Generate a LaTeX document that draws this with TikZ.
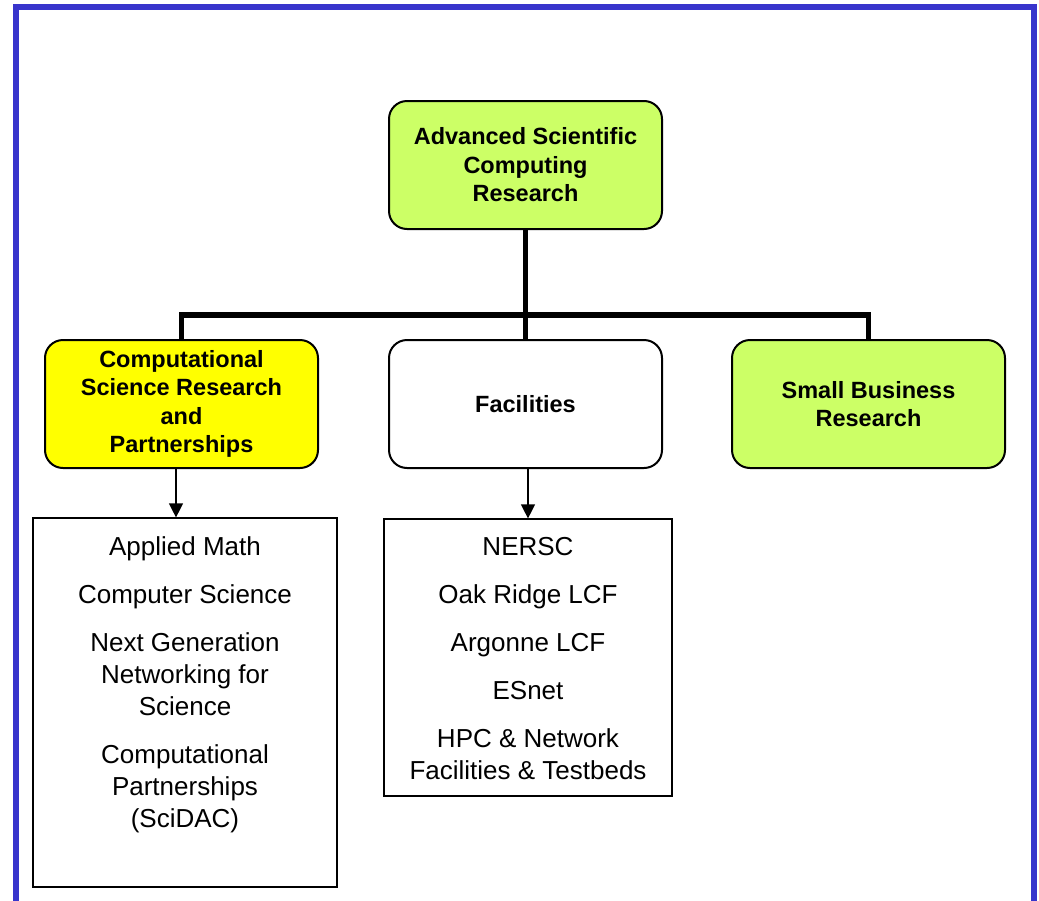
\documentclass[tikz,border=0pt]{standalone}
\usepackage{fontspec}
\setmainfont{Liberation Sans}
\usetikzlibrary{arrows.meta}
\definecolor{framebl}{RGB}{56,52,204}
\definecolor{limegreen}{HTML}{CCFF66}
\definecolor{brightyellow}{HTML}{FFFF00}
\begin{document}
\begin{tikzpicture}[x=1pt,y=-1pt,
  unit/.style={draw=black, line width=2pt, rounded corners=18pt,
    minimum width=273pt, minimum height=128pt, align=center,
    font=\fontsize{23.5}{28.5}\selectfont\bfseries, inner sep=0pt},
  listbox/.style={draw=black, line width=1.2pt, inner sep=0pt},
  listtext/.style={align=center, font=\fontsize{26}{32}\selectfont,
    inner sep=0pt, anchor=north},
  bus/.style={line width=5.5pt},
  feed/.style={line width=1.3pt, -{Triangle[width=14pt,length=14pt]}}
]
\useasboundingbox (0,0) rectangle (1039,900);
\clip (0,0) rectangle (1039,900);
\fill[white] (0,0) rectangle (1039,900);
% open blue frame
\draw[framebl, line width=6pt] (16,920) -- (16,7) -- (1034,7) -- (1034,920);

% organisation units
\node[unit, fill=limegreen] (ascr) at (525.5,165) {Advanced Scientific\\Computing\\Research};
\node[unit, fill=brightyellow] (csrp) at (181.5,404) {Computational\\Science Research\\and\\Partnerships};
\node[unit, fill=white] (fac) at (525.5,404) {Facilities};
\node[unit, fill=limegreen] (sbr) at (868.5,404) {Small Business\\Research};

% reporting lines
\coordinate (junction) at (525.5,315);
\draw[bus] (ascr.south) -- (junction);
\draw[bus] (junction) -| (csrp.north);
\draw[bus] (junction) -| (sbr.north);
\draw[bus] (junction) -- (fac.north);

% program lists
\node[listbox, minimum width=304pt, minimum height=369pt] (mathbox) at (185,702.5) {};
\node[listbox, minimum width=288pt, minimum height=277pt] (facbox) at (528,657.5) {};

\node[listtext] (mathlist) at ([yshift=-19pt]mathbox.north)
  {Applied Math\\[16pt]Computer Science\\[16pt]Next Generation\\Networking for\\Science\\[16pt]Computational\\Partnerships\\(SciDAC)};
\node[listtext] (faclist) at ([yshift=-19pt]facbox.north)
  {NERSC\\[16pt]Oak Ridge LCF\\[16pt]Argonne LCF\\[16pt]ESnet\\[16pt]HPC \& Network\\Facilities \& Testbeds};

\draw[feed] ([xshift=-5.5pt]csrp.south) -- ([xshift=-5.5pt]csrp.south |- mathbox.north);
\draw[feed] (fac.south -| facbox.north) -- (facbox.north);
\end{tikzpicture}
\end{document}
